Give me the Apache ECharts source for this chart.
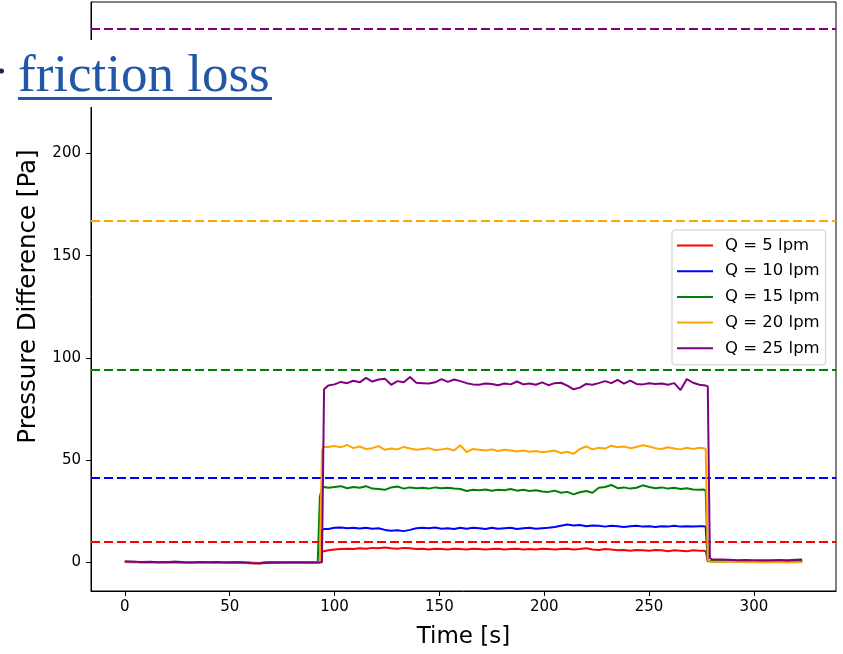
<!DOCTYPE html>
<html>
<head>
<meta charset="utf-8">
<script src="https://cdn.jsdelivr.net/npm/echarts@6/dist/echarts.min.js"></script>
<style>html,body{margin:0;padding:0;background:#fff}#c{width:843px;height:654px}</style>
</head>
<body>
<div id="c"></div>
<script>
// Time stamps [s]
const time = [0,4,8,12,16,20,24,28,32,36,40,44,48,52,56,60,64,68,72,76,80,84,88,91,92,93,94,95,
97,100,103,106,109,112,115,118,121,124,127,130,133,136,139,142,145,148,151,154,157,160,163,166,169,172,175,178,181,184,187,190,193,196,199,202,205,208,211,214,217,220,223,226,229,232,235,238,241,244,247,250,253,256,259,262,265,268,271,274,
276,277,278,279,280,284,288,292,296,300,304,308,312,316,320,323];

const seriesNames = ['Q = 5 lpm','Q = 10 lpm','Q = 15 lpm','Q = 20 lpm','Q = 25 lpm'];

const q5 = [0.2,0.1,0.0,0.1,0.0,0.1,0.0,-0.1,0.0,0.1,0.0,-0.1,0.0,-0.1,-0.3,-0.5,-0.6,-0.3,-0.1,0.0,0.1,0.0,-0.1,0.0,0.0,0.1,5.0,5.4,
5.8,6.2,6.4,6.6,6.4,6.8,6.6,7.0,6.8,7.2,6.8,6.6,7.0,6.8,6.4,6.6,6.2,6.6,6.4,6.2,6.6,6.4,6.2,6.6,6.4,6.2,6.4,6.6,6.2,6.4,6.6,6.2,6.4,6.2,6.6,6.4,6.2,6.4,6.6,6.2,6.4,6.8,6.2,6.0,6.4,6.2,5.8,6.0,5.6,6.0,5.8,5.6,6.0,5.8,5.4,5.8,5.6,5.4,5.8,5.6,
5.6,5.4,0.5,0.5,0.4,0.5,0.4,0.6,0.5,0.3,0.5,0.4,0.3,0.4,0.3,0.4];

const q10 = [0.1,0.2,0.0,0.1,0.1,0.0,0.1,0.0,0.0,0.1,-0.1,0.0,0.1,0.0,-0.2,-0.3,-0.4,-0.2,0.0,-0.1,0.0,0.1,0.0,0.0,0.0,0.0,15.8,16.2,
16.2,16.8,17.0,16.6,16.9,16.5,16.8,16.4,16.6,15.8,15.4,15.6,15.2,15.8,16.6,16.8,16.6,17.0,16.4,16.6,16.2,16.8,16.4,16.8,16.6,16.2,16.8,16.4,16.6,16.8,16.2,16.6,16.8,16.4,16.6,16.8,17.2,17.8,18.4,18.0,18.2,17.6,18.0,17.8,17.4,17.8,17.6,17.2,17.6,17.8,17.4,17.6,17.2,17.6,17.4,17.8,17.4,17.6,17.4,17.6,
17.6,17.4,0.6,0.6,0.5,0.6,0.5,0.7,0.5,0.4,0.6,0.5,0.4,0.5,0.6,0.4];

const q15 = [0.2,0.1,0.1,0.0,0.1,0.0,0.2,0.1,0.0,0.0,0.1,0.0,-0.1,0.1,-0.1,-0.3,-0.4,-0.2,-0.1,0.0,0.1,-0.1,0.0,0.0,0.3,32.0,36.2,36.8,
36.4,36.8,37.2,36.2,36.8,36.4,37.2,36.0,35.8,35.4,36.6,37.0,36.0,36.6,36.2,36.4,36.0,36.6,36.2,36.4,36.0,35.8,34.8,35.4,35.2,35.6,35.0,35.4,35.2,35.8,35.0,35.4,34.8,35.2,34.6,34.4,35.0,34.0,34.4,33.2,34.2,34.8,34.0,36.4,36.8,37.8,36.2,36.6,36.0,36.4,37.6,36.8,36.2,36.6,36.0,36.4,35.8,36.2,35.6,35.4,
35.6,35.0,0.8,0.5,0.6,0.5,0.6,0.4,0.5,0.3,0.4,0.5,0.3,0.4,0.5,0.4];

const q20 = [0.0,-0.1,0.1,0.0,-0.1,0.0,0.1,-0.1,0.0,-0.2,0.0,-0.1,0.0,-0.2,-0.3,-0.4,-0.5,-0.3,-0.2,-0.1,0.0,-0.1,-0.2,-0.1,0.0,0.0,55.0,56.4,
56.4,56.8,56.2,57.4,55.8,56.6,55.4,55.8,56.8,55.0,55.6,55.2,56.4,55.6,55.0,55.4,55.8,54.8,55.2,55.6,54.6,57.2,53.8,55.4,55.0,54.6,55.2,54.4,55.0,54.6,54.2,54.6,54.0,54.4,53.8,54.2,54.6,53.4,54.0,53.0,55.4,56.6,55.2,56.0,55.6,57.0,56.2,56.6,55.8,56.4,57.2,56.6,55.8,55.4,56.2,55.6,55.2,56.0,55.4,56.0,
55.8,55.4,1.0,0.3,0.2,0.2,0.1,0.3,0.0,0.1,-0.1,0.0,0.1,-0.2,0.0,0.0];

const q25 = [0.3,0.2,0.1,0.2,0.0,0.1,0.2,0.0,-0.1,0.1,0.0,0.1,-0.1,0.0,-0.2,-0.4,-0.5,-0.3,-0.2,-0.1,0.0,-0.1,-0.2,-0.1,-0.1,-0.1,0.0,84.6,
86.5,87.0,88.2,87.6,88.8,88.0,90.2,88.4,89.4,89.8,86.8,88.6,88.0,90.6,87.8,87.6,87.4,88.0,89.6,88.2,89.4,88.6,87.6,87.0,86.8,87.4,87.2,86.6,87.4,87.0,88.4,87.0,87.4,86.8,88.0,86.6,87.6,87.8,86.4,84.6,85.4,87.2,86.8,87.6,88.6,87.6,89.2,87.4,88.8,87.2,87.0,87.6,87.2,87.4,86.8,87.6,84.2,89.6,87.8,86.8,
86.6,86.4,86.0,2.0,1.4,1.3,1.2,1.0,1.1,0.9,1.0,0.9,1.1,1.0,1.2,1.3];

// Reference (dashed) levels [Pa]
const refLevels = [10.2, 41.4, 94.1, 167.3, 260.9];

const xTicks = [0,50,100,150,200,250,300];
const yTicks = [0,50,100,150,200,250];

const colors = ['#ff0000','#0000ff','#008000','#ffa500','#800080'];
const values = [q5,q10,q15,q20,q25];

const font = 'DejaVu Sans';
const chart = echarts.init(document.getElementById('c'), null, {renderer:'canvas'});

const series = values.map((v,k)=>({
  name: seriesNames[k],
  type: 'line',
  data: time.map((t,i)=>[t, v[i]]),
  symbol: 'none',
  showSymbol: false,
  lineStyle: {color: colors[k], width: 2},
  itemStyle: {color: colors[k]},
  z: 2 + k,
  markLine: {
    silent: true,
    symbol: 'none',
    label: {show: false},
    lineStyle: {color: colors[k], type: [9,4], width: 2},
    data: [{yAxis: refLevels[k]}]
  }
}));

chart.setOption({
  animation: false,
  backgroundColor: '#fff',
  grid: {left: 91, top: 2, right: 7, bottom: 61, show: true, borderColor: '#000', borderWidth: 1, backgroundColor: 'transparent'},
  xAxis: {
    type: 'value', min: -16.15, max: 339.15,
    name: 'Time [s]', nameLocation: 'middle', nameGap: 35,
    nameTextStyle: {fontFamily: font, fontSize: 23, color: '#000'},
    axisLine: {show: true, onZero: false, lineStyle: {color: '#000', width: 1}},
    axisTick: {show: true, length: 5, lineStyle: {color: '#000'}, customValues: xTicks},
    axisLabel: {fontFamily: font, fontSize: 15, color: '#000', margin: 9, customValues: xTicks},
    splitLine: {show: false}
  },
  yAxis: {
    type: 'value', min: -14.1, max: 274.1,
    name: 'Pressure Difference [Pa]', nameLocation: 'middle', nameGap: 48,
    nameTextStyle: {fontFamily: font, fontSize: 24.5, color: '#000'},
    axisLine: {show: true, onZero: false, lineStyle: {color: '#000', width: 1}},
    axisTick: {show: true, length: 5, lineStyle: {color: '#000'}, customValues: yTicks},
    axisLabel: {fontFamily: font, fontSize: 15, color: '#000', margin: 10, customValues: yTicks},
    splitLine: {show: false}
  },
  legend: {
    show: true, orient: 'vertical', left: 672, top: 230,
    padding: [7, 6, 8, 5],
    itemWidth: 36, itemHeight: 14, itemGap: 8.7,
    icon: 'path://M0,0 L36,0 L36,2 L0,2 Z',
    symbolKeepAspect: true,
    backgroundColor: 'rgba(255,255,255,0.8)', borderColor: '#cccccc', borderWidth: 1, borderRadius: 3,
    textStyle: {fontFamily: font, fontSize: 16.5, lineHeight: 16, color: '#000', padding: [0,0,0,7]},
    data: seriesNames
  },
  series: series,
  graphic: [
    {type: 'rect', z: 100, shape: {x: 0, y: 40, width: 280, height: 67}, style: {fill: '#fff'}},
    {type: 'circle', z: 101, shape: {cx: 1.5, cy: 71, r: 2.5}, style: {fill: '#1c2744'}},
    {type: 'text', z: 101, x: 18, y: 51, style: {text: 'friction loss', font: '53px "Liberation Serif"', fill: '#2157a6'}},
    {type: 'rect', z: 101, shape: {x: 18, y: 97, width: 254, height: 3}, style: {fill: '#2157a6'}}
  ]
});
</script>
</body>
</html>
